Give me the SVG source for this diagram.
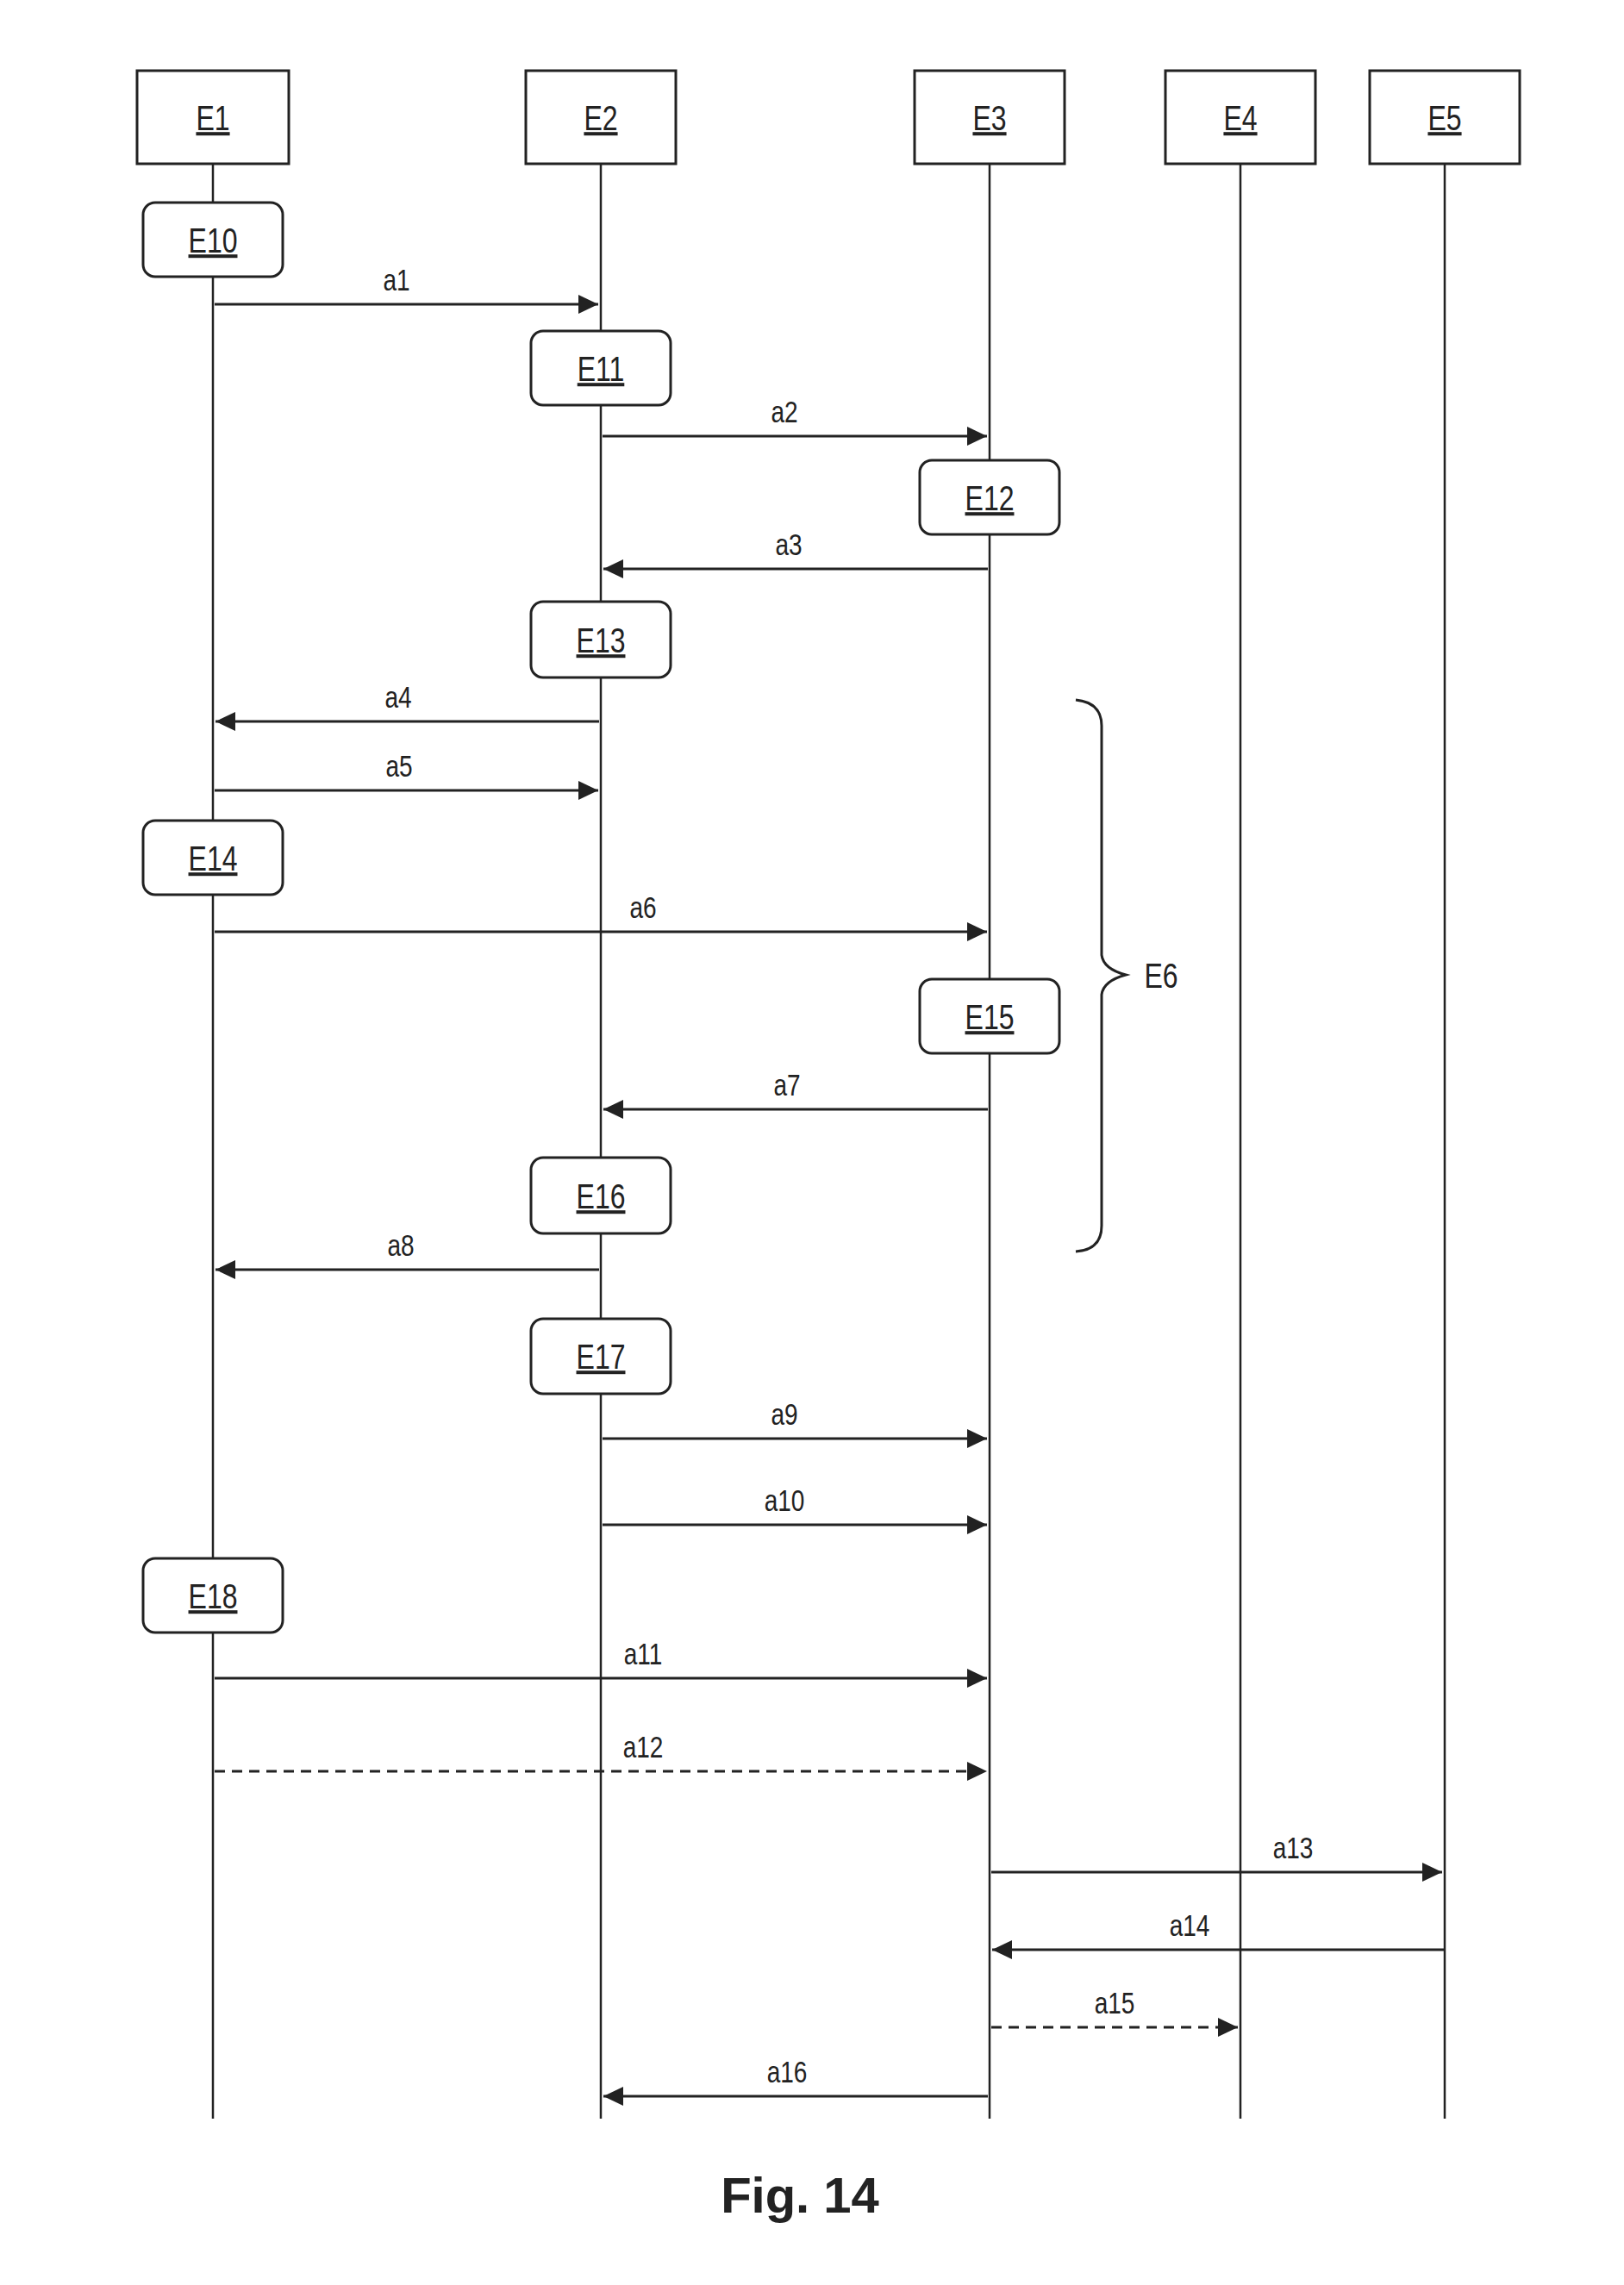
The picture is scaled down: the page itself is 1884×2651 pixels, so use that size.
<svg xmlns="http://www.w3.org/2000/svg" width="1884" height="2651" viewBox="0 0 1884 2651">
<style>
.life{stroke:#222;stroke-width:2.5;fill:none}
.head{fill:#fff;stroke:#222;stroke-width:3}
.act{fill:#fff;stroke:#222;stroke-width:3}
.nl{font-family:"Liberation Sans",Arial,sans-serif;font-size:40px;fill:#222;text-anchor:middle;text-decoration:underline}
.al{font-family:"Liberation Sans",Arial,sans-serif;font-size:35px;fill:#222;text-anchor:middle}
.msg{stroke:#222;stroke-width:3;fill:none;marker-end:url(#ah)}
.dash{stroke-dasharray:12 8}
.fig{font-family:"Liberation Sans",Arial,sans-serif;font-size:58px;font-weight:bold;fill:#222;text-anchor:middle}
</style>
<defs>
<marker id="ah" markerUnits="userSpaceOnUse" markerWidth="24" markerHeight="24" refX="23" refY="11" orient="auto">
<path d="M0,0 L23,11 L0,22 z" fill="#222"/>
</marker>
</defs>
<rect width="1884" height="2651" fill="#fff"/>
<g id="lifelines">
<line class="life" x1="247" y1="189" x2="247" y2="2458"/>
<line class="life" x1="697" y1="189" x2="697" y2="2458"/>
<line class="life" x1="1148" y1="189" x2="1148" y2="2458"/>
<line class="life" x1="1439" y1="189" x2="1439" y2="2458"/>
<line class="life" x1="1676" y1="189" x2="1676" y2="2458"/>
</g>
<g id="E1"><rect class="head" x="159" y="82" width="176" height="108"/><text class="nl" transform="translate(247,151) scale(0.8,1)">E1</text></g>
<g id="E2"><rect class="head" x="610" y="82" width="174" height="108"/><text class="nl" transform="translate(697,151) scale(0.8,1)">E2</text></g>
<g id="E3"><rect class="head" x="1061" y="82" width="174" height="108"/><text class="nl" transform="translate(1148,151) scale(0.8,1)">E3</text></g>
<g id="E4"><rect class="head" x="1352" y="82" width="174" height="108"/><text class="nl" transform="translate(1439,151) scale(0.8,1)">E4</text></g>
<g id="E5"><rect class="head" x="1589" y="82" width="174" height="108"/><text class="nl" transform="translate(1676,151) scale(0.8,1)">E5</text></g>
<g id="E10"><rect class="act" x="166" y="235" width="162" height="86" rx="14"/><text class="nl" transform="translate(247,293) scale(0.8,1)">E10</text></g>
<g id="E11"><rect class="act" x="616" y="384" width="162" height="86" rx="14"/><text class="nl" transform="translate(697,442) scale(0.8,1)">E11</text></g>
<g id="E12"><rect class="act" x="1067" y="534" width="162" height="86" rx="14"/><text class="nl" transform="translate(1148,592) scale(0.8,1)">E12</text></g>
<g id="E13"><rect class="act" x="616" y="698" width="162" height="88" rx="14"/><text class="nl" transform="translate(697,757) scale(0.8,1)">E13</text></g>
<g id="E14"><rect class="act" x="166" y="952" width="162" height="86" rx="14"/><text class="nl" transform="translate(247,1010) scale(0.8,1)">E14</text></g>
<g id="E15"><rect class="act" x="1067" y="1136" width="162" height="86" rx="14"/><text class="nl" transform="translate(1148,1194) scale(0.8,1)">E15</text></g>
<g id="E16"><rect class="act" x="616" y="1343" width="162" height="88" rx="14"/><text class="nl" transform="translate(697,1402) scale(0.8,1)">E16</text></g>
<g id="E17"><rect class="act" x="616" y="1530" width="162" height="87" rx="14"/><text class="nl" transform="translate(697,1588) scale(0.8,1)">E17</text></g>
<g id="E18"><rect class="act" x="166" y="1808" width="162" height="86" rx="14"/><text class="nl" transform="translate(247,1866) scale(0.8,1)">E18</text></g>
<g id="connectors">
<line class="msg" x1="249" y1="353" x2="694" y2="353"/>
<line class="msg" x1="699" y1="506" x2="1145" y2="506"/>
<line class="msg" x1="1146" y1="660" x2="700" y2="660"/>
<line class="msg" x1="695" y1="837" x2="250" y2="837"/>
<line class="msg" x1="249" y1="917" x2="694" y2="917"/>
<line class="msg" x1="249" y1="1081" x2="1145" y2="1081"/>
<line class="msg" x1="1146" y1="1287" x2="700" y2="1287"/>
<line class="msg" x1="695" y1="1473" x2="250" y2="1473"/>
<line class="msg" x1="699" y1="1669" x2="1145" y2="1669"/>
<line class="msg" x1="699" y1="1769" x2="1145" y2="1769"/>
<line class="msg" x1="249" y1="1947" x2="1145" y2="1947"/>
<line class="msg dash" x1="249" y1="2055" x2="1145" y2="2055"/>
<line class="msg" x1="1150" y1="2172" x2="1673" y2="2172"/>
<line class="msg" x1="1676" y1="2262" x2="1151" y2="2262"/>
<line class="msg dash" x1="1150" y1="2352" x2="1436" y2="2352"/>
<line class="msg" x1="1146" y1="2432" x2="700" y2="2432"/>
<text class="al" transform="translate(460,337) scale(0.8,1)">a1</text>
<text class="al" transform="translate(910,490) scale(0.8,1)">a2</text>
<text class="al" transform="translate(915,644) scale(0.8,1)">a3</text>
<text class="al" transform="translate(462,821) scale(0.8,1)">a4</text>
<text class="al" transform="translate(463,901) scale(0.8,1)">a5</text>
<text class="al" transform="translate(746,1065) scale(0.8,1)">a6</text>
<text class="al" transform="translate(913,1271) scale(0.8,1)">a7</text>
<text class="al" transform="translate(465,1457) scale(0.8,1)">a8</text>
<text class="al" transform="translate(910,1653) scale(0.8,1)">a9</text>
<text class="al" transform="translate(910,1753) scale(0.8,1)">a10</text>
<text class="al" transform="translate(746,1931) scale(0.8,1)">a11</text>
<text class="al" transform="translate(746,2039) scale(0.8,1)">a12</text>
<text class="al" transform="translate(1500,2156) scale(0.8,1)">a13</text>
<text class="al" transform="translate(1380,2246) scale(0.8,1)">a14</text>
<text class="al" transform="translate(1293,2336) scale(0.8,1)">a15</text>
<text class="al" transform="translate(913,2416) scale(0.8,1)">a16</text>
</g>
<g id="E6">
<path d="M1248,812 Q1278,815 1278,842 L1278,1108 Q1280,1124 1306,1131 Q1280,1138 1278,1154 L1278,1422 Q1278,1450 1248,1452" fill="none" stroke="#222" stroke-width="3"/>
<text transform="translate(1347,1146) scale(0.8,1)" font-family="Liberation Sans, Arial, sans-serif" font-size="40" fill="#222" text-anchor="middle">E6</text>
</g>
<text class="fig" x="928" y="2567">Fig. 14</text>
</svg>
